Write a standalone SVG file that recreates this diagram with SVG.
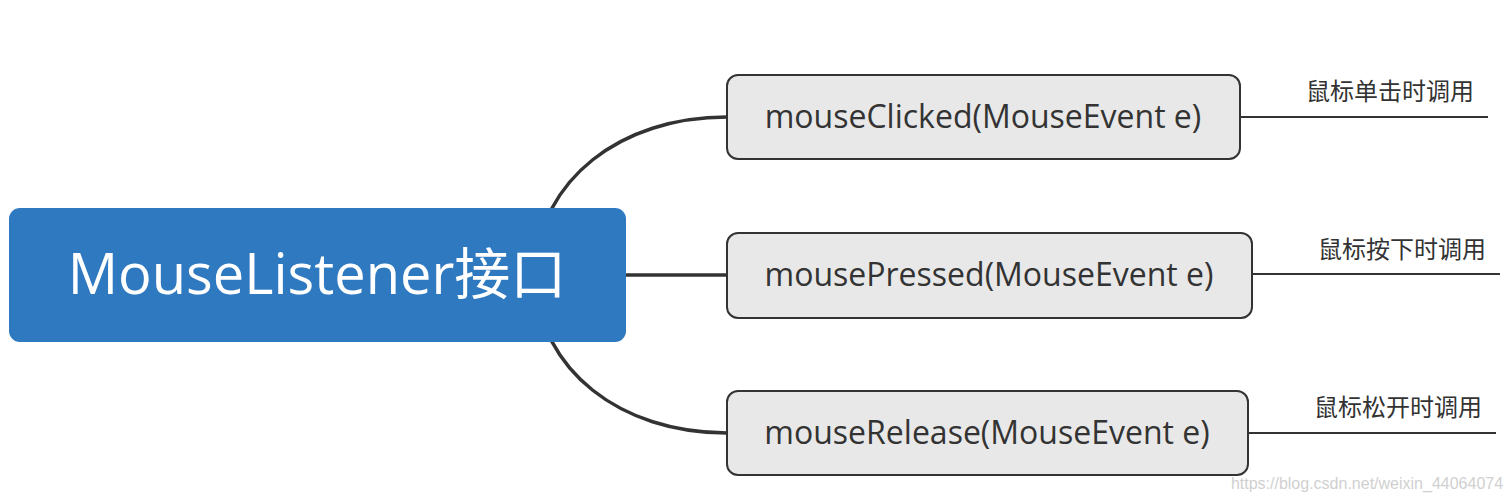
<svg xmlns="http://www.w3.org/2000/svg" width="1512" height="500" viewBox="0 0 1512 500">
<style>
.conn{fill:none;stroke:#333333;stroke-width:3.5}
.lead{fill:none;stroke:#333333;stroke-width:2}
.child rect{fill:#E8E8E8;stroke:#333333;stroke-width:2}
.child text{font-family:"Open Sans","Noto Sans",sans-serif;font-size:32px;fill:#333333;text-anchor:middle}
.lbl{font-family:"Noto Sans CJK SC","Noto Sans",sans-serif;font-size:24px;fill:#333333;text-anchor:middle}
</style>
<rect width="1512" height="500" fill="#ffffff"/>
<g id="connectors">
<path class="conn" d="M535,270 C540,180 620,117 727,117"/>
<path class="conn" d="M600,275 L727,275"/>
<path class="conn" d="M535,280 C540,370 620,433 727,433"/>
<path class="lead" d="M1240,117 L1488,117"/>
<path class="lead" d="M1252,274 L1500,274"/>
<path class="lead" d="M1248,433 L1496,433"/>
</g>
<g id="root">
<rect x="9" y="208" width="617" height="134" rx="11" fill="#2F79C0"/>
<text x="317" y="294" font-family="Open Sans, Noto Sans CJK SC, sans-serif" font-size="56" fill="#ffffff" text-anchor="middle">MouseListener接口</text>
</g>
<g id="clicked" class="child">
<rect x="727" y="75" width="513" height="84" rx="11"/>
<text x="983" y="128">mouseClicked(MouseEvent e)</text>
</g>
<g id="pressed" class="child">
<rect x="727" y="233" width="525" height="85" rx="11"/>
<text x="989" y="286">mousePressed(MouseEvent e)</text>
</g>
<g id="release" class="child">
<rect x="727" y="391" width="521" height="84" rx="11"/>
<text x="987" y="444">mouseRelease(MouseEvent e)</text>
</g>
<g id="label-clicked"><text class="lbl" x="1390" y="100">鼠标单击时调用</text></g>
<g id="label-pressed"><text class="lbl" x="1402" y="258">鼠标按下时调用</text></g>
<g id="label-release"><text class="lbl" x="1398" y="416">鼠标松开时调用</text></g>
<text x="1367" y="489" font-family="Liberation Sans, Arial, sans-serif" font-size="16" fill="#D0D0D0" text-anchor="middle">https://blog.csdn.net/weixin_44064074</text>
</svg>
